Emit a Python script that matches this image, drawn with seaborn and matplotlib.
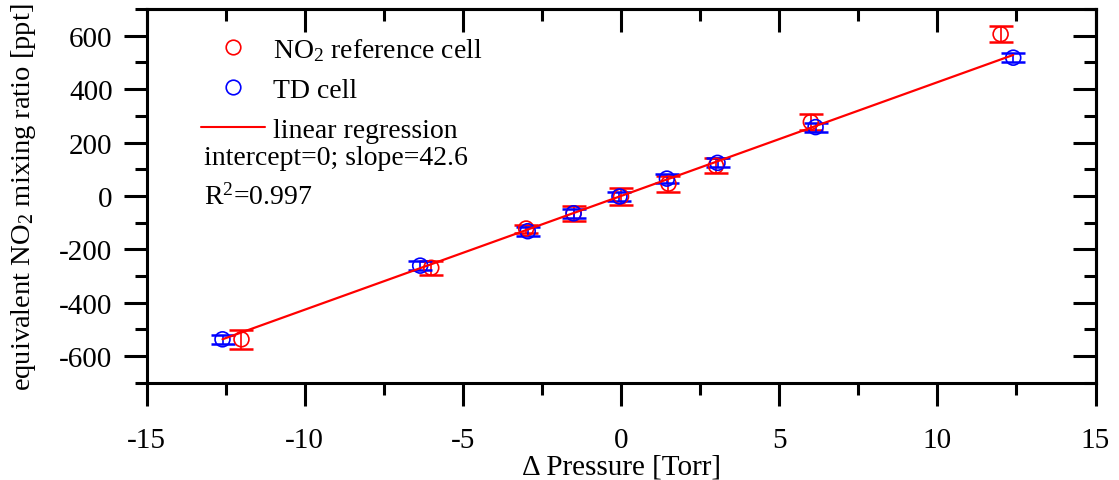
import numpy as np
import pandas as pd
import matplotlib
matplotlib.use("Agg")
import matplotlib.pyplot as plt
from matplotlib.lines import Line2D
from matplotlib.ticker import MultipleLocator
import seaborn as sns

# ---- data ----
ref_x = [-12.0, -6.0, -3.0, -1.5, 0.0, 1.5, 3.0, 6.0, 12.0]
ref_y = [-537, -269, -122, -65, -2, 46, 113, 277, 606]
ref_yerr = [35, 27, 15, 28, 30, 30, 28, 30, 30]

td_x = [-12.6, -6.35, -2.95, -1.5, -0.05, 1.45, 3.05, 6.15, 12.4]
td_y = [-537, -261, -132, -65, -2, 65, 124, 258, 518]
td_yerr = [17, 16, 17, 17, 17, 17, 17, 17, 16]

slope = 42.6
intercept = 0.0
r2 = 0.997

x_ticks = [-15, -10, -5, 0, 5, 10, 15]
y_ticks = [-600, -400, -200, 0, 200, 400, 600]

sns.set_theme(style="ticks")
plt.rcParams["font.family"] = ["Liberation Serif", "DejaVu Serif"]
plt.rcParams["mathtext.fontset"] = "custom"
plt.rcParams["mathtext.rm"] = "Liberation Serif"
plt.rcParams["mathtext.it"] = "Liberation Serif:italic"
plt.rcParams["mathtext.bf"] = "Liberation Serif:bold"
plt.rcParams["axes.unicode_minus"] = False
for k in ["text.color", "axes.labelcolor", "xtick.color", "ytick.color",
          "axes.edgecolor"]:
    plt.rcParams[k] = "black"

fig = plt.figure(figsize=(11.19, 4.81), dpi=100)
ax = fig.add_axes([0.131, 0.202, 0.848, 0.777])

RED = "#ff0000"
BLUE = "#0000ff"

# error bars
ax.errorbar(ref_x, ref_y, yerr=ref_yerr, fmt="none", ecolor=RED,
            elinewidth=1.2, capsize=8.5, capthick=1.8, zorder=2)
ax.errorbar(td_x, td_y, yerr=td_yerr, fmt="none", ecolor=BLUE,
            elinewidth=1.2, capsize=8.5, capthick=1.8, zorder=3)

# markers
ref_df = pd.DataFrame({"x": ref_x, "y": ref_y})
td_df = pd.DataFrame({"x": td_x, "y": td_y})
sns.scatterplot(data=ref_df, x="x", y="y", ax=ax, marker="o", s=115,
                facecolor="none", edgecolor=RED, linewidth=1.2, zorder=4)
sns.scatterplot(data=td_df, x="x", y="y", ax=ax, marker="o", s=115,
                facecolor="none", edgecolor=BLUE, linewidth=1.2, zorder=5)

# regression line
xs = np.array([min(td_x), max(td_x)])
reg_df = pd.DataFrame({"x": xs, "y": intercept + slope * xs})
sns.lineplot(data=reg_df, x="x", y="y", ax=ax, color=RED, linewidth=1.6,
             zorder=6)

ax.set_xlim(-15, 15)
ax.set_ylim(-700, 700)
ax.set_xticks(x_ticks)
ax.set_yticks(y_ticks)
ax.xaxis.set_minor_locator(MultipleLocator(2.5))
ax.yaxis.set_minor_locator(MultipleLocator(100))
ax.set_xticklabels([str(t) for t in x_ticks])
ax.set_yticklabels([str(t) for t in y_ticks])

for s in ax.spines.values():
    s.set_visible(True)
    s.set_linewidth(2.2)
    s.set_color("black")

ax.tick_params(which="major", direction="out", length=16.5, width=2.2,
               labelsize=21, colors="black")
ax.tick_params(axis="x", which="major", pad=15)
ax.tick_params(axis="y", which="major", pad=8)
ax.tick_params(which="minor", direction="out", length=8.5, width=2.2)

# mirrored inward ticks on top and right
top = ax.secondary_xaxis("top")
top.set_xticks(x_ticks)
top.xaxis.set_minor_locator(MultipleLocator(2.5))
top.tick_params(which="major", direction="in", length=16.5, width=2.2, labeltop=False)
top.tick_params(which="minor", direction="in", length=8.5, width=2.2)
top.spines["top"].set_linewidth(2.2)
right = ax.secondary_yaxis("right")
right.set_yticks(y_ticks)
right.yaxis.set_minor_locator(MultipleLocator(100))
right.tick_params(which="major", direction="in", length=16.5, width=2.2, labelright=False)
right.tick_params(which="minor", direction="in", length=8.5, width=2.2)
right.spines["right"].set_linewidth(2.2)

ax.set_xlabel("\u0394 Pressure [Torr]", fontsize=21, labelpad=1)
ax.set_ylabel("equivalent NO$_2$ mixing ratio [ppt]", fontsize=20.5, labelpad=15)

handles = [
    Line2D([], [], linestyle="none", marker="o", markersize=10.5,
           markerfacecolor="none", markeredgecolor=RED, markeredgewidth=1.2),
    Line2D([], [], linestyle="none", marker="o", markersize=10.5,
           markerfacecolor="none", markeredgecolor=BLUE, markeredgewidth=1.2),
    Line2D([], [], color=RED, linewidth=1.5),
]
labels = ["NO$_2$ reference cell", "TD cell", "linear regression"]
ax.legend(handles, labels, loc="upper left", bbox_to_anchor=(0.037, 0.98),
          frameon=False, fontsize=20, handlelength=2.3, handletextpad=0.3,
          labelspacing=0.52, borderaxespad=0.3)

ax.text(0.061, 0.602, f"intercept={intercept:g}; slope={slope}",
        transform=ax.transAxes, fontsize=20, va="center", ha="left")
ax.text(0.061, 0.5, f"R$^2$={r2}", transform=ax.transAxes, fontsize=20,
        va="center", ha="left")

fig.savefig("out.png", dpi=100)
